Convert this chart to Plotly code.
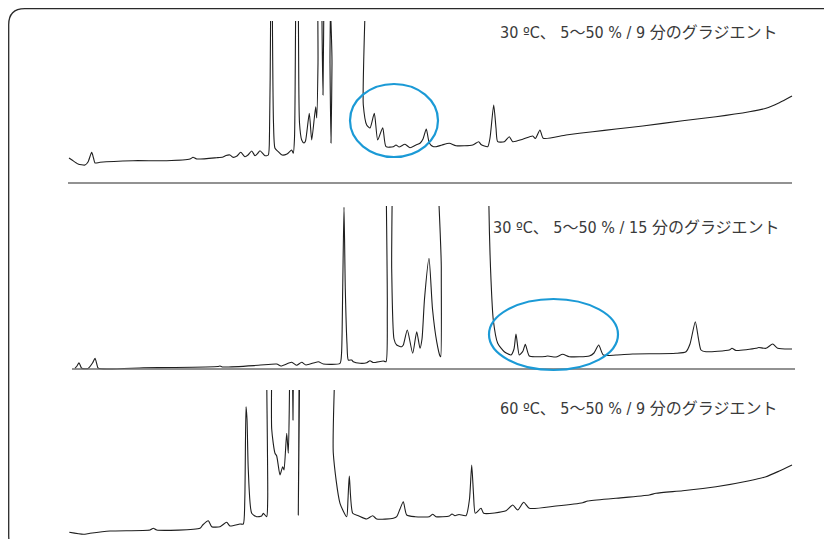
import plotly.graph_objects as go

W, H = 832, 539

# ---------------- data (retention axis in arbitrary units, signal in arbitrary units) -------------
# Panel 1: 30 ºC, 5-50 % / 9 min
p1_rt = [1, 4, 10, 17, 20, 23.7, 25.5, 27, 32, 65, 98.7, 122, 125, 128.7, 148.7, 155, 158, 162, 165, 169,
         172.7, 177, 180, 183.7, 187, 190, 192, 197, 200.3,
         201.5, 202.5, 203.5, 204.5, 205.5, 207, 210.3, 214, 219, 223.7, 225.3,
         226.5, 227.5, 229, 230.5, 231.5, 233.7, 236, 237.5, 241.3, 243.7, 247.7, 248.7,
         250, 251, 253, 254, 255, 256, 257.5, 261, 262, 263, 264, 265,
         293, 295.3, 298.7, 302, 306.3, 309.7, 314.7, 318, 325.3, 328, 331, 337, 342, 348, 352, 355,
         358.3, 361.3, 365, 368, 374, 381.3, 388, 404.7, 410.7, 413, 419.7, 422, 425.7, 428, 429.7,
         436.3, 441.3, 444.7, 454.7, 464.7, 467.3, 472, 475.3, 498, 524.7, 548, 574.7, 614.7, 648,
         681.3, 698, 711.3, 724]
p1_sig = [25, 23, 19, 18, 21, 30.7, 25, 20, 20.7, 22.3, 22.3, 24, 25.7, 24, 25.3, 26, 27.5, 28, 25.7, 27,
          30.7, 26.3, 28, 32, 27.3, 30, 32.3, 27.3, 28,
          50, 150, 400, 150, 60, 34.7, 31.3, 28, 29, 33, 29.7,
          45, 150, 400, 150, 60, 43, 40, 42, 69.7, 43, 76.3, 65,
          120, 400, 400, 160, 88, 200, 400, 400, 120, 40, 120, 400,
          400, 78, 58, 55, 69.7, 43, 55.3, 36.3, 36.3, 38, 36, 38.7, 35.3, 38, 39.7, 44,
          54, 40, 36.5, 36.3, 38, 39.7, 37.3, 38, 41.3, 38.5, 36.3, 45, 78, 55, 41.3,
          41.3, 46.3, 41.3, 43.7, 47, 44.5, 53, 44.7, 48, 51.3, 54, 57, 62.3, 66.3,
          71.3, 74.7, 80.3, 87]

# Panel 2: 30 ºC, 5-50 % / 15 min
p2_rt = [7, 9, 11, 13.7, 20, 24.5, 27, 28.8, 30.3, 75.3, 105, 150, 152, 155, 190.3, 208.7, 213, 223.7,
         228.7, 233.7, 238, 250.3, 255.3, 272,
         273.5, 274.7, 276, 277.3, 279, 280.3, 283.7, 285.3, 292, 298.7, 302, 305, 315.3, 318,
         319.3, 320, 323, 323.7, 326, 328.7, 333.7, 335.3, 339.3, 344.7, 348.7, 352, 354, 356.5, 361,
         364.5, 368.7, 372, 372.7, 373.3, 374,
         420.7, 420.9, 423, 425.3, 429.7, 436.3, 443, 446, 448, 451.3, 455, 457.3, 461.3, 468, 477,
         479.7, 488, 494.7, 501.3, 521.3, 526, 530.7, 535.3, 548, 564.7, 608, 618, 622, 627.3, 630.5,
         633, 638, 661.3, 664, 668, 688, 690.7, 698, 704.7, 709.7, 724]
p2_sig = [0.7, 3, 6.3, 0.7, 0.5, 6, 10.7, 5, 0.7, 1.3, 1.5, 2.5, 3, 2, 3.7, 5, 3, 6.7,
          3.7, 6.7, 4, 7.3, 5, 5.7,
          15, 80, 162, 80, 25, 9, 9, 7.3, 5.7, 6.3, 8.3, 6.5, 8, 7.3,
          60, 400, 400, 100, 30, 24, 22.3, 24, 39, 15.7, 37.3, 20.7, 30, 70, 110.7,
          60, 27.3, 13, 12.3, 100, 400,
          400, 164, 89, 49, 25.7, 17.3, 14, 20, 35, 14, 18, 24.7, 13, 12.3, 12.5,
          13, 12, 14.7, 12.3, 13, 16, 24, 14, 14, 15, 15.7, 17.3, 25, 47.3, 30,
          19, 17.3, 19, 20.7, 18.5, 20.7, 21.5, 20.7, 25, 20.7, 20]

# Panel 3: 60 ºC, 5-50 % / 9 min
p3_rt = [1.3, 15.3, 22, 42, 82, 85.3, 88.7, 132, 134.7, 140.3, 143.7, 152, 158.7, 162, 172, 175.3,
         176.8, 178, 179, 180.3, 183.7, 188.7, 193.7, 195.3, 198.7, 199.7, 200.3, 203.2, 203.7, 207,
         208.7, 212, 214.7, 216, 218.7, 220.3, 221.5, 222, 224, 225, 226, 229, 230.3, 231, 231.5,
         263.7, 265.3, 272, 278.7, 280, 281.3, 284.7, 290.3, 298.7, 304.7, 308.7, 325.3, 328.7, 332,
         335.3, 338.7, 347, 361.3, 364.7, 368, 381.3, 384, 387, 391, 398, 401.5, 403.7, 405.5, 407.3,
         413, 415.7, 438, 444.7, 449.7, 455.7, 461.3, 488, 514.7, 519.7, 548, 581.3, 588, 614.7, 648,
         681.3, 698, 711.3, 724]
p3_sig = [6.7, 4.7, 5.7, 8, 9, 10.7, 9, 10.7, 14, 18.3, 12.3, 12.3, 16.7, 13, 15, 15,
          40, 132.3, 120, 69, 25.7, 22.3, 23, 25.7, 22.3, 40, 400, 400, 110, 85.7,
          83, 64, 72.3, 69, 105.7, 85.7, 150, 400, 400, 119, 400, 400, 24, 150, 400,
          400, 85.7, 35.7, 22.3, 40, 63, 25.7, 23.3, 20, 23.3, 20, 20.7, 22.3, 30,
          37.3, 24, 22.3, 22.3, 24.7, 22.3, 23, 25, 23.3, 24.5, 23.3, 40, 74, 45, 25.7,
          30.7, 25.7, 28.3, 34, 29, 36.7, 30.7, 33, 36.3, 38, 40.7, 44, 45.7, 48.3, 52.3,
          58.3, 62.3, 68, 74]

labels = ["30 ºC、 5～50 % / 9 分のグラジエント",
          "30 ºC、 5～50 % / 15 分のグラジエント",
          "60 ºC、 5～50 % / 9 分のグラジエント"]

# ---------------- layout helpers -------------
# the page body adds an 8 px offset; compensate so the picture lands where intended
OFF = 8

def py(p):  # page pixel row -> paper y
    return 1 - (p - OFF) / H

def px(p):  # page pixel column -> paper x
    return (p - OFF) / W

TRACE = "#1e1e1e"
BLUE = "#1b9ad6"
TXT = "#3a3a3a"
FONT = "Liberation Sans Narrow, DejaVu Sans Condensed, Noto Sans CJK JP, sans-serif"

fig = go.Figure()
series = [(p1_rt, p1_sig, "x", "y"), (p2_rt, p2_sig, "x2", "y2"), (p3_rt, p3_sig, "x3", "y3")]
for rt, sig, xa, ya in series:
    fig.add_trace(go.Scatter(x=rt, y=sig, xaxis=xa, yaxis=ya, mode="lines",
                             line=dict(color=TRACE, width=1.1, shape="spline", smoothing=0.6),
                             hoverinfo="skip", showlegend=False))

xdom = [px(68), px(795)]
ax = dict(domain=xdom, range=[0, 727], visible=False, fixedrange=True)
fig.update_layout(
    width=W, height=H, margin=dict(l=0, r=0, t=0, b=0),
    paper_bgcolor="white", plot_bgcolor="rgba(0,0,0,0)", showlegend=False,
    xaxis=dict(ax, anchor="y"), xaxis2=dict(ax, anchor="y2"), xaxis3=dict(ax, anchor="y3"),
    yaxis=dict(domain=[py(186), py(21)], range=[-3, 162], visible=False, fixedrange=True, anchor="x"),
    yaxis2=dict(domain=[py(372), py(206)], range=[-3, 163], visible=False, fixedrange=True, anchor="x2"),
    yaxis3=dict(domain=[py(539), py(390)], range=[0, 149], visible=False, fixedrange=True, anchor="x3"),
)

shapes = []
# rounded outer frame
r = 16
L = 8.7
frame = (f"M {px(22)},{py(552)} Q {px(L)},{py(552)} {px(L)},{py(536)} "
         f"L {px(L)},{py(L + r)} Q {px(L)},{py(L)} {px(L + r)},{py(L)} L {px(860)},{py(L)}")
shapes.append(dict(type="path", xref="paper", yref="paper", path=frame,
                   line=dict(color="#2a2a2a", width=1.3)))
# baselines / separators
shapes.append(dict(type="line", xref="x", yref="y", x0=0, x1=724, y0=0, y1=0,
                   line=dict(color="#6e6e6e", width=1.6)))
shapes.append(dict(type="line", xref="x2", yref="y2", x0=4, x1=727, y0=0, y1=0,
                   line=dict(color="#6e6e6e", width=1.6)))
# highlight ellipses
shapes.append(dict(type="circle", xref="x", yref="y", x0=282, x1=370, y0=26, y1=99,
                   line=dict(color=BLUE, width=2.2)))
shapes.append(dict(type="circle", xref="x2", yref="y2", x0=421, x1=550, y0=-1, y1=70,
                   line=dict(color=BLUE, width=2.2)))
fig.update_layout(shapes=shapes)

ann_pos = [("x", "y", 430, 150), ("x2", "y2", 423, 141), ("x3", "y3", 430, 131)]
for (xa, ya, xv, yv), t in zip(ann_pos, labels):
    fig.add_annotation(x=xv, y=yv, xref=xa, yref=ya, text=t, showarrow=False,
                       xanchor="left", yanchor="middle",
                       font=dict(family=FONT, size=16, color=TXT))

fig.write_html("out.html", config={"displayModeBar": False})
